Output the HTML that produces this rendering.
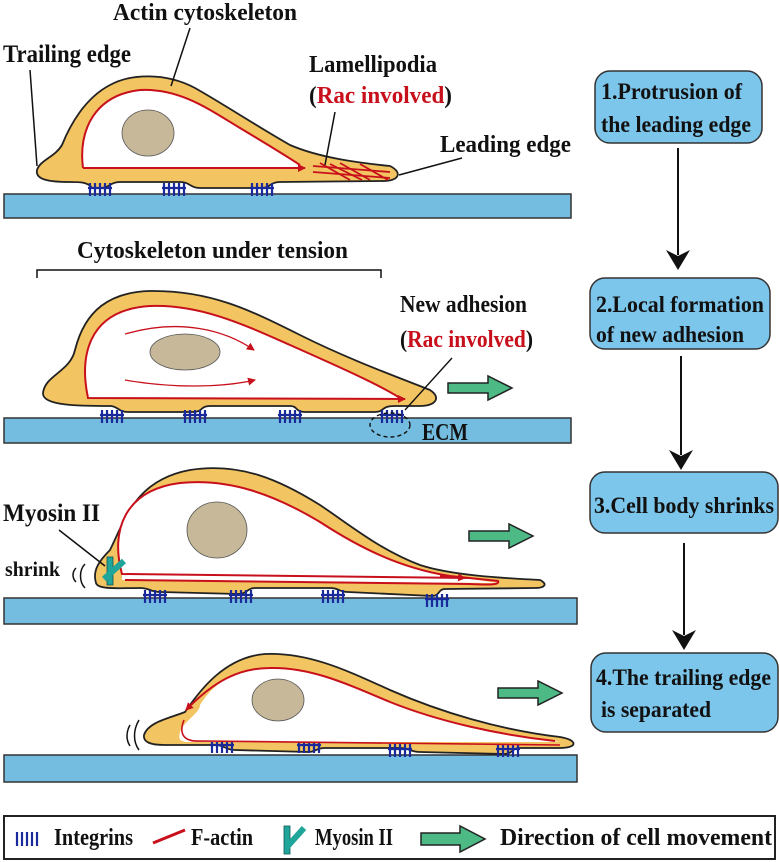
<!DOCTYPE html>
<html><head><meta charset="utf-8"><style>
html,body{margin:0;padding:0;background:#fff;}
svg{display:block;}
text{font-family:"Liberation Serif",serif;font-weight:bold;fill:#111;}
.r{fill:#c8101c;}
</style></head><body>
<svg width="779" height="862" viewBox="0 0 779 862" xmlns="http://www.w3.org/2000/svg">
<defs>
<marker id="ar" markerWidth="8" markerHeight="8" refX="7" refY="4" orient="auto" markerUnits="userSpaceOnUse"><path d="M0,0 L8,4 L0,8 Z" fill="#c8101c"/></marker>
<g id="integ"><g stroke="#1a2a9a" stroke-width="2.2"><line x1="0" y1="0" x2="0" y2="13"/><line x1="5" y1="0" x2="5" y2="13"/><line x1="10" y1="0" x2="10" y2="13"/><line x1="15" y1="0" x2="15" y2="13"/><line x1="20" y1="0" x2="20" y2="13"/><line x1="-2" y1="5" x2="22" y2="5"/></g></g>
<g id="garrow"><path d="M0,-5 L40,-5 L40,-12 L64,0 L40,12 L40,5 L0,5 Z" fill="#4dba86" stroke="#222" stroke-width="1.5"/></g>
</defs>

<g fill="#74bde0" stroke="#333" stroke-width="1.5">
<rect x="4" y="194" width="567" height="24"/>
<rect x="4" y="418" width="567" height="25"/>
<rect x="4" y="598" width="573" height="26"/>
<rect x="4" y="755" width="573" height="27"/>
</g>

<!-- PANEL 1 -->
<path d="M37,170 C40,160 55,157 62,145 C70,125 85,98 110,85 C130,74 165,72 195,88 C225,105 255,125 290,145 C320,158 360,163 390,166 C402,172 400,180 385,181 L280,182 C270,182 270,188 262,188 L200,188 C190,188 190,182 180,182 L120,182 C110,182 110,188 100,188 L92,188 C88,182 80,182 70,182 C50,182 35,180 37,170 Z" fill="#f2c462" stroke="#222" stroke-width="1.8"/>
<use href="#integ" x="90" y="183"/><use href="#integ" x="164" y="183"/><use href="#integ" x="252" y="183"/>
<path d="M83,168 C78,130 95,95 140,90 C180,88 210,110 240,128 C265,143 285,155 305,168 Z" fill="#fff"/>
<path d="M83,168 C78,130 95,95 140,90 C180,88 210,110 240,128 C265,143 285,155 300,165" fill="none" stroke="#c8101c" stroke-width="2"/>
<path d="M83,168 L305,168" stroke="#c8101c" stroke-width="2" marker-end="url(#ar)"/>
<ellipse cx="148" cy="133" rx="26" ry="23" fill="#c6b898" stroke="#555" stroke-width="0.8"/>
<g stroke="#c8101c" stroke-width="1.8"><line x1="313" y1="166" x2="390" y2="172"/><line x1="313" y1="172" x2="390" y2="178"/><line x1="320" y1="163" x2="350" y2="180"/><line x1="340" y1="163" x2="370" y2="180"/><line x1="360" y1="164" x2="388" y2="180"/><line x1="330" y1="164" x2="362" y2="180"/></g>
<g stroke="#111" stroke-width="1.5" fill="none">
<line x1="190" y1="28" x2="171" y2="86"/><line x1="30" y1="70" x2="37" y2="166"/><line x1="335" y1="112" x2="325" y2="165"/><line x1="462" y1="158" x2="399" y2="175"/></g>
<text x="113" y="20" font-size="24" textLength="184" lengthAdjust="spacingAndGlyphs">Actin cytoskeleton</text>
<text x="3" y="62" font-size="25" textLength="128" lengthAdjust="spacingAndGlyphs">Trailing edge</text>
<text x="309" y="72" font-size="24" textLength="128" lengthAdjust="spacingAndGlyphs">Lamellipodia</text>
<text x="309" y="103" font-size="24" textLength="143" lengthAdjust="spacingAndGlyphs">(<tspan class="r">Rac involved</tspan>)</text>
<text x="440" y="152" font-size="24" textLength="131" lengthAdjust="spacingAndGlyphs">Leading edge</text>

<!-- PANEL 2 -->
<path d="M37,278 L37,270 L381,270 L381,278" fill="none" stroke="#111" stroke-width="1.5"/>
<text x="77" y="258" font-size="24" textLength="271" lengthAdjust="spacingAndGlyphs">Cytoskeleton under tension</text>
<path d="M43,393 C45,375 70,372 75,350 C85,310 110,292 150,291 C210,290 250,310 300,335 C350,360 400,378 430,390 C442,398 435,406 420,406 L395,406 C380,406 385,412 375,412 L305,412 C295,412 298,406 290,406 L210,406 C200,406 203,412 193,412 L128,412 C118,412 118,406 110,406 C80,406 42,406 43,393 Z" fill="#f2c462" stroke="#222" stroke-width="1.8"/>
<use href="#integ" x="102" y="410"/><use href="#integ" x="185" y="410"/><use href="#integ" x="280" y="410"/><use href="#integ" x="382" y="410"/>
<path d="M88,398 C80,360 85,310 150,306 C200,304 245,325 290,345 C335,365 380,385 400,398 Z" fill="#fff"/>
<path d="M400,398 C380,385 335,365 290,345 C245,325 200,304 150,306 C85,310 80,360 88,398 L405,399" fill="none" stroke="#c8101c" stroke-width="2" marker-end="url(#ar)"/>
<ellipse cx="185" cy="352" rx="35" ry="18" fill="#c6b898" stroke="#555" stroke-width="0.8"/>
<path d="M125,334 C180,318 225,330 254,350" fill="none" stroke="#c8101c" stroke-width="1.3" marker-end="url(#ar)"/>
<path d="M125,380 C170,388 220,388 255,380" fill="none" stroke="#c8101c" stroke-width="1.3" marker-end="url(#ar)"/>
<ellipse cx="390" cy="425" rx="20" ry="12" fill="none" stroke="#111" stroke-width="1.4" stroke-dasharray="4,3"/>
<line x1="452" y1="358" x2="405" y2="410" stroke="#111" stroke-width="1.4"/>
<text x="422" y="440" font-size="24" textLength="46" lengthAdjust="spacingAndGlyphs">ECM</text>
<text x="400" y="312" font-size="24" textLength="127" lengthAdjust="spacingAndGlyphs">New adhesion</text>
<text x="400" y="347" font-size="24" textLength="133" lengthAdjust="spacingAndGlyphs">(<tspan class="r">Rac involved</tspan>)</text>
<use href="#garrow" x="448" y="388"/>

<!-- PANEL 3 -->
<path d="M96,583 C92,570 100,560 110,550 C125,520 135,480 190,470 C240,462 280,480 320,505 C350,525 380,550 420,565 C450,575 500,578 540,580 C548,584 545,588 535,588 L445,589 C438,589 440,596 432,596 L348,592 C338,592 340,588 330,588 L256,588 C246,588 248,594 238,594 L160,592 C150,592 150,588 140,588 C120,588 98,590 96,583 Z" fill="#f2c462" stroke="#222" stroke-width="1.8"/>
<use href="#integ" x="145" y="590"/><use href="#integ" x="231" y="590"/><use href="#integ" x="323" y="590"/><use href="#integ" x="427" y="594"/>
<path d="M122,572 C110,530 125,490 180,483 C230,478 275,495 320,522 C360,548 400,568 450,576 L498,583 L122,580 Z" fill="#fff"/>
<path d="M470,578 L122,574 C110,530 125,490 180,483 C230,478 275,495 320,522 C360,548 400,568 450,576 L498,581 C500,585 490,585 470,584 L125,580" fill="none" stroke="#c8101c" stroke-width="2"/>
<path d="M440,576 L465,578" stroke="#c8101c" stroke-width="2" marker-end="url(#ar)"/>
<ellipse cx="217" cy="530" rx="30" ry="28" fill="#c6b898" stroke="#555" stroke-width="0.8"/>
<line x1="59" y1="530" x2="105" y2="566" stroke="#111" stroke-width="1.5"/>
<rect x="107" y="557" width="6" height="28" fill="#1fa59a" stroke="#155" stroke-width="0.8"/>
<line x1="104" y1="579" x2="124" y2="561" stroke="#1fa59a" stroke-width="6"/>
<text x="3" y="521" font-size="25" textLength="97" lengthAdjust="spacingAndGlyphs">Myosin II</text>
<text x="5" y="576" font-size="21" textLength="55" lengthAdjust="spacingAndGlyphs">shrink</text>
<path d="M76,568 C72,572 72,578 76,582" fill="none" stroke="#111" stroke-width="1.5"/>
<path d="M85,564 C79,570 79,582 85,588" fill="none" stroke="#111" stroke-width="1.5"/>
<use href="#garrow" x="469" y="536"/>

<!-- PANEL 4 -->
<path d="M144,735 C148,722 170,718 185,712 C200,690 225,657 265,654 C310,652 350,672 390,690 C440,712 500,730 560,737 C578,740 578,748 560,748 L520,748 C512,748 512,754 505,754 L420,752 C410,752 410,748 400,748 L325,748 C315,748 317,752 308,752 L235,750 C225,750 225,745 215,745 L165,745 C150,745 143,742 144,735 Z" fill="#f2c462" stroke="#222" stroke-width="1.8"/>
<use href="#integ" x="212" y="740"/><use href="#integ" x="299" y="740"/><use href="#integ" x="390" y="744"/><use href="#integ" x="498" y="744"/>
<path d="M180,740 C175,725 200,715 200,705 C215,680 240,668 270,668 C310,667 345,683 390,702 C440,722 500,735 560,742 L185,742 Z" fill="#fff"/>
<path d="M555,741 C500,735 440,722 390,702 C345,683 310,667 270,668 C240,668 215,680 186,710" fill="none" stroke="#c8101c" stroke-width="2" marker-end="url(#ar)"/>
<path d="M184,720 C178,735 185,742 200,741 L560,745" fill="none" stroke="#c8101c" stroke-width="1.6"/>
<ellipse cx="278" cy="700" rx="26" ry="21" fill="#c6b898" stroke="#555" stroke-width="0.8"/>
<path d="M130,725 C126,732 126,740 130,746" fill="none" stroke="#111" stroke-width="1.5"/>
<path d="M139,720 C133,730 133,742 139,750" fill="none" stroke="#111" stroke-width="1.5"/>
<use href="#garrow" x="498" y="693"/>

<!-- RIGHT BOXES -->
<g fill="#7cc6ec" stroke="#333" stroke-width="1.5">
<rect x="595" y="71" width="167" height="72" rx="15"/>
<rect x="590" y="278" width="180" height="71" rx="15"/>
<rect x="590" y="472" width="188" height="61" rx="15"/>
<rect x="591" y="653" width="187" height="79" rx="15"/>
</g>
<text x="601" y="99" font-size="23" textLength="141" lengthAdjust="spacingAndGlyphs">1.Protrusion of</text>
<text x="601" y="132" font-size="23" textLength="150" lengthAdjust="spacingAndGlyphs">the leading edge</text>
<text x="596" y="312" font-size="23" textLength="168" lengthAdjust="spacingAndGlyphs">2.Local formation</text>
<text x="596" y="342" font-size="23" textLength="148" lengthAdjust="spacingAndGlyphs">of new adhesion</text>
<text x="594" y="513" font-size="23" textLength="180" lengthAdjust="spacingAndGlyphs">3.Cell body shrinks</text>
<text x="596" y="685" font-size="23" textLength="175" lengthAdjust="spacingAndGlyphs">4.The trailing edge</text>
<text x="601" y="717" font-size="23" textLength="110" lengthAdjust="spacingAndGlyphs">is separated</text>
<g stroke="#111" stroke-width="2"><line x1="678" y1="148" x2="678" y2="255"/><line x1="681" y1="356" x2="681" y2="455"/><line x1="684" y1="543" x2="684" y2="635"/></g>
<g fill="#111"><path d="M666,250 L678,270 L690,250 L678,256 Z"/><path d="M669,450 L681,470 L693,450 L681,456 Z"/><path d="M672,630 L684,650 L696,630 L684,636 Z"/></g>

<!-- LEGEND -->
<rect x="4" y="816" width="771" height="43" fill="#fff" stroke="#222" stroke-width="2"/>
<g stroke="#1a2a9a" stroke-width="2.2"><line x1="17" y1="832" x2="17" y2="846"/><line x1="22" y1="832" x2="22" y2="846"/><line x1="27" y1="832" x2="27" y2="846"/><line x1="32" y1="832" x2="32" y2="846"/><line x1="37" y1="832" x2="37" y2="846"/></g>
<text x="54" y="845" font-size="24" textLength="79" lengthAdjust="spacingAndGlyphs">Integrins</text>
<line x1="153" y1="843" x2="185" y2="830" stroke="#c8101c" stroke-width="3"/>
<text x="191" y="845" font-size="24" textLength="62" lengthAdjust="spacingAndGlyphs">F-actin</text>
<rect x="284" y="826" width="6" height="28" fill="#1fa59a" stroke="#155" stroke-width="0.8"/>
<line x1="286" y1="848" x2="304" y2="828" stroke="#1fa59a" stroke-width="6"/>
<text x="315" y="845" font-size="24" textLength="78" lengthAdjust="spacingAndGlyphs">Myosin II</text>
<path d="M421,833 L460,833 L460,826 L485,839 L460,852 L460,845 L421,845 Z" fill="#4dba86" stroke="#222" stroke-width="1.5"/>
<text x="500" y="845" font-size="24" textLength="272" lengthAdjust="spacingAndGlyphs">Direction of cell movement</text>
</svg>
</body></html>
